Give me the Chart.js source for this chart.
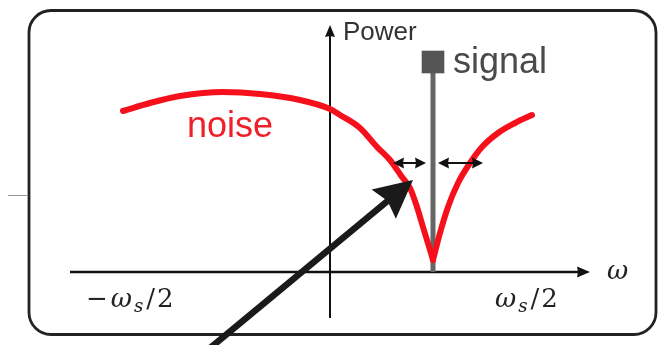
<!DOCTYPE html>
<html>
<head>
<meta charset="utf-8">
<script src="https://cdn.jsdelivr.net/npm/chart.js@4.4.1/dist/chart.umd.min.js"></script>
<style>
  html, body { margin: 0; padding: 0; background: #fff; }
</style>
</head>
<body>
<canvas id="spectrum" width="662" height="345"></canvas>
<script>
// values (x: omega in units of ws/2, y: power)
const noiseLeftX  = [-1.035, -0.9, -0.75, -0.535, -0.35, -0.15, 0, 0.05, 0.15, 0.235, 0.30, 0.36, 0.40, 0.435, 0.465, 0.50, 0.515];
const noiseLeftY  = [1.61, 1.69, 1.76, 1.80, 1.78, 1.72, 1.63, 1.57, 1.44, 1.25, 1.12, 0.95, 0.84, 0.65, 0.45, 0.22, 0.12];
const noiseRightX = [0.515, 0.55, 0.59, 0.64, 0.70, 0.76, 0.84, 0.925, 1.01];
const noiseRightY = [0.12, 0.39, 0.65, 0.89, 1.09, 1.25, 1.39, 1.49, 1.57];
const signalX = [0.515, 0.515];
const signalY = [0, 2.10];
const axisRangeX = [-1.3, 1.3];
const axisRangeY = [-0.46, 2.47];
const bandLevel = 1.09;
const bandArrows = [[0.315, 0.48], [0.54, 0.765]];
const pointerFrom = [-0.66, -0.86];
const pointerTo = [0.415, 0.92];
const tickLabels = ["\u2212\u03c9s/2", "\u03c9s/2"];

function toPoints(xs, ys) {
  return xs.map((x, i) => ({ x: x, y: ys[i] }));
}

function arrowHead(ctx, x1, y1, x2, y2, len, half, notch) {
  const a = Math.atan2(y2 - y1, x2 - x1);
  const c = Math.cos(a), s = Math.sin(a);
  ctx.beginPath();
  ctx.moveTo(x2, y2);
  ctx.lineTo(x2 - len * c + half * s, y2 - len * s - half * c);
  ctx.lineTo(x2 - (len - notch) * c, y2 - (len - notch) * s);
  ctx.lineTo(x2 - len * c - half * s, y2 - len * s + half * c);
  ctx.closePath();
  ctx.fill();
}

// draws omega-style labels: upright / italic / subscript pieces
function drawMath(ctx, parts, x, y, size) {
  let cx = x;
  parts.forEach(p => {
    const fs = p.sub ? size * 0.7 : size;
    ctx.font = (p.italic ? 'italic ' : '') + fs + 'px "DejaVu Serif"';
    ctx.fillText(p.t, cx, y + (p.sub ? size * 0.2 : 0));
    cx += ctx.measureText(p.t).width + (p.gap || 0);
  });
}

function mathParts(label) {
  const parts = [];
  if (label[0] === "\u2212") parts.push({ t: "\u2212", gap: 3 });
  parts.push({ t: "\u03c9", italic: true, gap: 2 });
  parts.push({ t: "s", italic: true, sub: true, gap: 3 });
  parts.push({ t: "/", gap: 2 });
  parts.push({ t: "2" });
  return parts;
}

const decorations = {
  id: 'decorations',
  beforeDatasetsDraw(chart) {
    const ctx = chart.ctx;
    const xs = chart.scales.x, ys = chart.scales.y;
    ctx.save();
    // frame
    ctx.strokeStyle = '#222';
    ctx.lineWidth = 2.8;
    ctx.beginPath();
    ctx.roundRect(29, 10.5, 627, 324, 22);
    ctx.stroke();
    ctx.strokeStyle = '#999';
    ctx.lineWidth = 1;
    ctx.beginPath();
    ctx.moveTo(8, 195.5);
    ctx.lineTo(28, 195.5);
    ctx.stroke();

    // axes
    const x0 = xs.getPixelForValue(0), y0 = ys.getPixelForValue(0);
    const xa = xs.getPixelForValue(axisRangeX[0]), xb = xs.getPixelForValue(axisRangeX[1]);
    const ya = ys.getPixelForValue(axisRangeY[0]), yb = ys.getPixelForValue(axisRangeY[1]);
    ctx.strokeStyle = '#111';
    ctx.fillStyle = '#111';
    ctx.lineWidth = 2.5;
    ctx.beginPath();
    ctx.moveTo(xa, y0);
    ctx.lineTo(xb - 8, y0);
    ctx.stroke();
    arrowHead(ctx, xa, y0, xb, y0, 13, 5.5, 1);
    ctx.lineWidth = 2;
    ctx.beginPath();
    ctx.moveTo(x0, ya);
    ctx.lineTo(x0, yb + 8);
    ctx.stroke();
    arrowHead(ctx, x0, ya, x0, yb, 12, 5, 1);
    ctx.restore();
  },
  afterDatasetsDraw(chart) {
    const ctx = chart.ctx;
    const xs = chart.scales.x, ys = chart.scales.y;
    const px = v => xs.getPixelForValue(v), py = v => ys.getPixelForValue(v);
    ctx.save();

    // width arrows around the signal
    ctx.strokeStyle = '#111';
    ctx.fillStyle = '#111';
    ctx.lineWidth = 2;
    const yb = py(bandLevel);
    bandArrows.forEach(([a, b]) => {
      ctx.beginPath();
      ctx.moveTo(px(a) + 6, yb);
      ctx.lineTo(px(b) - 6, yb);
      ctx.stroke();
      arrowHead(ctx, px(b), yb, px(a), yb, 11, 5.5, 1);
      arrowHead(ctx, px(a), yb, px(b), yb, 11, 5.5, 1);
    });

    // big pointer arrow
    const fx = px(pointerFrom[0]), fy = py(pointerFrom[1]);
    const tx = px(pointerTo[0]), ty = py(pointerTo[1]);
    ctx.strokeStyle = '#1a1a1a';
    ctx.fillStyle = '#1a1a1a';
    ctx.lineWidth = 6.5;
    const ang = Math.atan2(ty - fy, tx - fx);
    ctx.beginPath();
    ctx.moveTo(fx, fy);
    ctx.lineTo(tx - 26 * Math.cos(ang), ty - 26 * Math.sin(ang));
    ctx.stroke();
    arrowHead(ctx, fx, fy, tx, ty, 38, 19, 5);

    // texts
    ctx.textBaseline = 'alphabetic';
    ctx.fillStyle = '#f0202a';
    ctx.font = '36px "Liberation Sans"';
    ctx.fillText('noise', px(-0.715), py(1.35));
    ctx.fillStyle = '#4a4a4a';
    ctx.font = '36px "Liberation Sans"';
    ctx.fillText('signal', px(0.615), py(1.99));
    ctx.fillStyle = '#333';
    ctx.font = '26px "Liberation Sans"';
    ctx.fillText('Power', px(0.065), py(2.32));

    ctx.fillStyle = '#222';
    ctx.font = 'italic 26px "DejaVu Serif"';
    ctx.fillText('\u03c9', px(1.385), py(-0.07));
    drawMath(ctx, mathParts(tickLabels[0]), px(-1.22), py(-0.35), 26);
    drawMath(ctx, mathParts(tickLabels[1]), px(0.825), py(-0.35), 26);
    ctx.restore();
  }
};

new Chart(document.getElementById('spectrum'), {
  type: 'line',
  data: {
    datasets: [
      {
        label: 'noise',
        data: toPoints(noiseLeftX, noiseLeftY),
        borderColor: '#f5101c',
        borderWidth: 6,
        borderCapStyle: 'round',
        cubicInterpolationMode: 'monotone',
        pointRadius: 0
      },
      {
        label: 'noise right',
        data: toPoints(noiseRightX, noiseRightY),
        borderColor: '#f5101c',
        borderWidth: 6,
        borderCapStyle: 'round',
        cubicInterpolationMode: 'monotone',
        pointRadius: 0
      },
      {
        label: 'signal',
        data: toPoints(signalX, signalY),
        borderColor: '#666',
        borderWidth: 5,
        tension: 0,
        pointStyle: 'rect',
        pointRadius: [0, 16],
        pointBackgroundColor: '#555',
        pointBorderWidth: 0
      }
    ]
  },
  options: {
    responsive: false,
    animation: false,
    layout: { padding: 0, autoPadding: false },
    plugins: {
      legend: { display: false },
      tooltip: { enabled: false }
    },
    scales: {
      x: { type: 'linear', min: -1.65, max: 1.66, display: false },
      y: { type: 'linear', min: -0.73, max: 2.72, display: false }
    }
  },
  plugins: [decorations]
});
</script>
</body>
</html>
